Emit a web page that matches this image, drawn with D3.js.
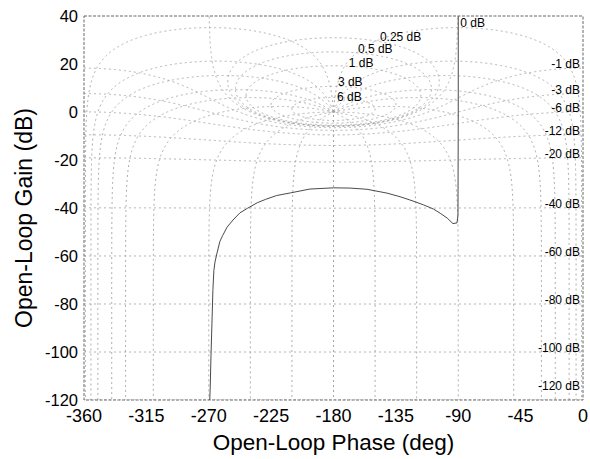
<!DOCTYPE html>
<html>
<head>
<meta charset="utf-8">
<script src="https://cdn.jsdelivr.net/npm/d3@7"></script>
<style>
body { margin: 0; background: #fff; }
text { font-family: "Liberation Sans", Arial, Helvetica, sans-serif; fill: #000; }
</style>
</head>
<body>
<div id="chart"></div>
<script>
// closed-loop magnitude contours (dB)
const magContours = [6, 3, 1, 0.5, 0.25, 0, -1, -3, -6, -12, -20, -40, -60, -80, -100, -120];
// closed-loop phase contours (deg)
const phaseContours = [-1, -5, -10, -20, -30, -50, -90, -120, -150, -180];

const phaseTicks = [-360, -315, -270, -225, -180, -135, -90, -45, 0];
const gainTicks = [40, 20, 0, -20, -40, -60, -80, -100, -120];

// open-loop response (low frequency first)
const olPhase = [-90, -90, -90.2, -90.9, -93.8, -98, -103, -108, -115, -122.6, -132, -141.4,
    -155.8, -168, -180, -197, -211, -221, -229, -235, -242, -247.5, -252.5, -256.8, -260,
    -262, -264, -265.5, -266.3, -267, -267.7, -268.4, -269, -269.3];
const olGain = [40, 0, -43, -46.2, -46.5, -44.2, -42.2, -40.4, -38.7, -37.1, -35.3, -33.8,
    -32.2, -31.7, -31.6, -32.1, -33.7, -34.8, -36.4, -37.8, -40.1, -42, -45, -48, -51.5,
    -54, -58.7, -62.5, -66, -74, -88, -102, -116, -120];

// where the positive contour labels sit (phase, pixel nudge up)
const posLabelPhase = {6: -177.5, 3: -176.8, 1: -169, 0.5: -162.4, 0.25: -146.5};
const posLabelNudge = {6: 1, 3: 4, 1: 3, 0.5: 3, 0.25: 1};

const W = 590, H = 459;
const plot = {left: 84, right: 583, top: 16, bottom: 400};

const x = d3.scaleLinear().domain([-360, 0]).range([plot.left, plot.right]);
const y = d3.scaleLinear().domain([-120, 40]).range([plot.bottom, plot.top]);

const rad = Math.PI / 180;
const db = r => 20 * Math.log10(r);

function magCurve(g) {
    // open-loop points where |L/(1+L)| = 10^(g/20)
    const m = Math.pow(10, g / 20), m2 = m * m;
    const pts = [];
    if (g < 0) {
        for (let p = -360; p <= 0.001; p += 0.25) {
            const c = Math.cos(p * rad);
            const r = (m2 * c + Math.sqrt(m2 * m2 * c * c + m2 * (1 - m2))) / (1 - m2);
            pts.push([p, db(r)]);
        }
    } else if (g === 0) {
        for (let t = -Math.PI / 2 + 1e-5; t < Math.PI / 2; t += Math.PI / 3000) {
            const p = -180 + 90 * Math.sin(t);
            pts.push([p, db(-1 / (2 * Math.cos(p * rad)))]);
        }
    } else {
        const p0 = Math.acos(Math.sqrt(m2 - 1) / m) / rad;
        const up = [], lo = [];
        for (let t = -Math.PI / 2; t <= Math.PI / 2 + 1e-9; t += Math.PI / 600) {
            const p = -180 + p0 * Math.sin(t);
            const c = Math.cos(p * rad);
            const d = Math.sqrt(Math.max(0, m2 * m2 * c * c - m2 * (m2 - 1)));
            up.push([p, db((-m2 * c + d) / (m2 - 1))]);
            lo.push([p, db((-m2 * c - d) / (m2 - 1))]);
        }
        return up.concat(lo.reverse());
    }
    return pts;
}

function phaseCurve(psi) {
    // open-loop points where arg(L/(1+L)) = psi, phase from psi down to -180
    const pts = [];
    if (psi === -180) return [[-180, -300], [-180, 0]];
    const span = psi + 180;
    const deltas = [];
    for (let e = -10; e < 0; e += 0.05) deltas.push(Math.pow(10, e));
    for (let d = 1; d < span; d += 0.25) deltas.push(d);
    deltas.push(span);
    deltas.forEach(d => {
        const p = psi - d;
        const r = Math.sin((p - psi) * rad) / Math.sin(psi * rad);
        pts.push([p, r > 0 ? db(r) : -300]);
    });
    return pts;
}

const svg = d3.select("#chart").append("svg")
    .attr("width", W)
    .attr("height", H)
    .attr("viewBox", `0 0 ${W} ${H}`);

svg.append("defs").append("clipPath").attr("id", "plotclip")
    .append("rect")
    .attr("x", plot.left).attr("y", plot.top)
    .attr("width", plot.right - plot.left).attr("height", plot.bottom - plot.top);

const line = d3.line()
    .x(d => x(d[0]))
    .y(d => y(Math.max(-300, Math.min(300, d[1]))));

const grid = svg.append("g").attr("clip-path", "url(#plotclip)")
    .attr("fill", "none")
    .attr("stroke", "#a3a3a3")
    .attr("stroke-width", 0.9)
    .attr("stroke-dasharray", "2,3");

magContours.forEach(g => {
    grid.append("path").attr("d", line(magCurve(g)));
});

phaseContours.forEach(psi => {
    const pts = phaseCurve(psi);
    grid.append("path").attr("d", line(pts));
    // mirror about -180
    grid.append("path").attr("d", line(pts.map(d => [-360 - d[0], d[1]])));
});

// open-loop curve
svg.append("g").attr("clip-path", "url(#plotclip)")
    .append("path")
    .datum(d3.zip(olPhase, olGain))
    .attr("fill", "none")
    .attr("stroke", "#4a4a4a")
    .attr("stroke-width", 1)
    .attr("d", d3.line().x(d => x(d[0])).y(d => y(d[1])));

// frame
svg.append("rect")
    .attr("x", plot.left).attr("y", plot.top)
    .attr("width", plot.right - plot.left).attr("height", plot.bottom - plot.top)
    .attr("fill", "none")
    .attr("stroke", "#666")
    .attr("stroke-width", 1)
    .attr("stroke-dasharray", "3,1.5");

// contour labels
const labels = svg.append("g").style("font-size", "12px");

magContours.forEach(g => {
    const m = Math.pow(10, g / 20);
    if (g > 0) {
        const peak = db(m / (m - 1)); // gain at -180
        labels.append("text")
            .attr("x", x(posLabelPhase[g]))
            .attr("y", y(peak) - posLabelNudge[g])
            .attr("dominant-baseline", "central")
            .text(`${g} dB`);
    } else if (g === 0) {
        labels.append("text")
            .attr("x", x(-90) + 2)
            .attr("y", plot.top + 7)
            .attr("dominant-baseline", "central")
            .text("0 dB");
    } else {
        const g0 = db(m / (1 - m)); // gain at 0 deg
        labels.append("text")
            .attr("x", plot.right - 3)
            .attr("y", Math.min(y(g0) - 4, plot.bottom - 14))
            .attr("text-anchor", "end")
            .attr("dominant-baseline", "central")
            .text(`${g} dB`);
    }
});

// axis tick labels
svg.append("g").selectAll("text")
    .data(phaseTicks)
    .join("text")
    .attr("x", d => x(d))
    .attr("y", plot.bottom + 22)
    .attr("text-anchor", "middle")
    .style("font-size", "18px")
    .text(d => d);

svg.append("g").selectAll("text")
    .data(gainTicks)
    .join("text")
    .attr("x", plot.left - 6)
    .attr("y", d => y(d))
    .attr("text-anchor", "end")
    .attr("dominant-baseline", "central")
    .style("font-size", "16.5px")
    .text(d => d);

// axis titles
svg.append("text")
    .attr("x", (plot.left + plot.right) / 2)
    .attr("y", 450)
    .attr("text-anchor", "middle")
    .style("font-size", "22.5px")
    .text("Open-Loop Phase (deg)");

svg.append("text")
    .attr("transform", "translate(24,218) rotate(-90)")
    .attr("text-anchor", "middle")
    .attr("dominant-baseline", "central")
    .style("font-size", "23px")
    .text("Open-Loop Gain (dB)");
</script>
</body>
</html>
